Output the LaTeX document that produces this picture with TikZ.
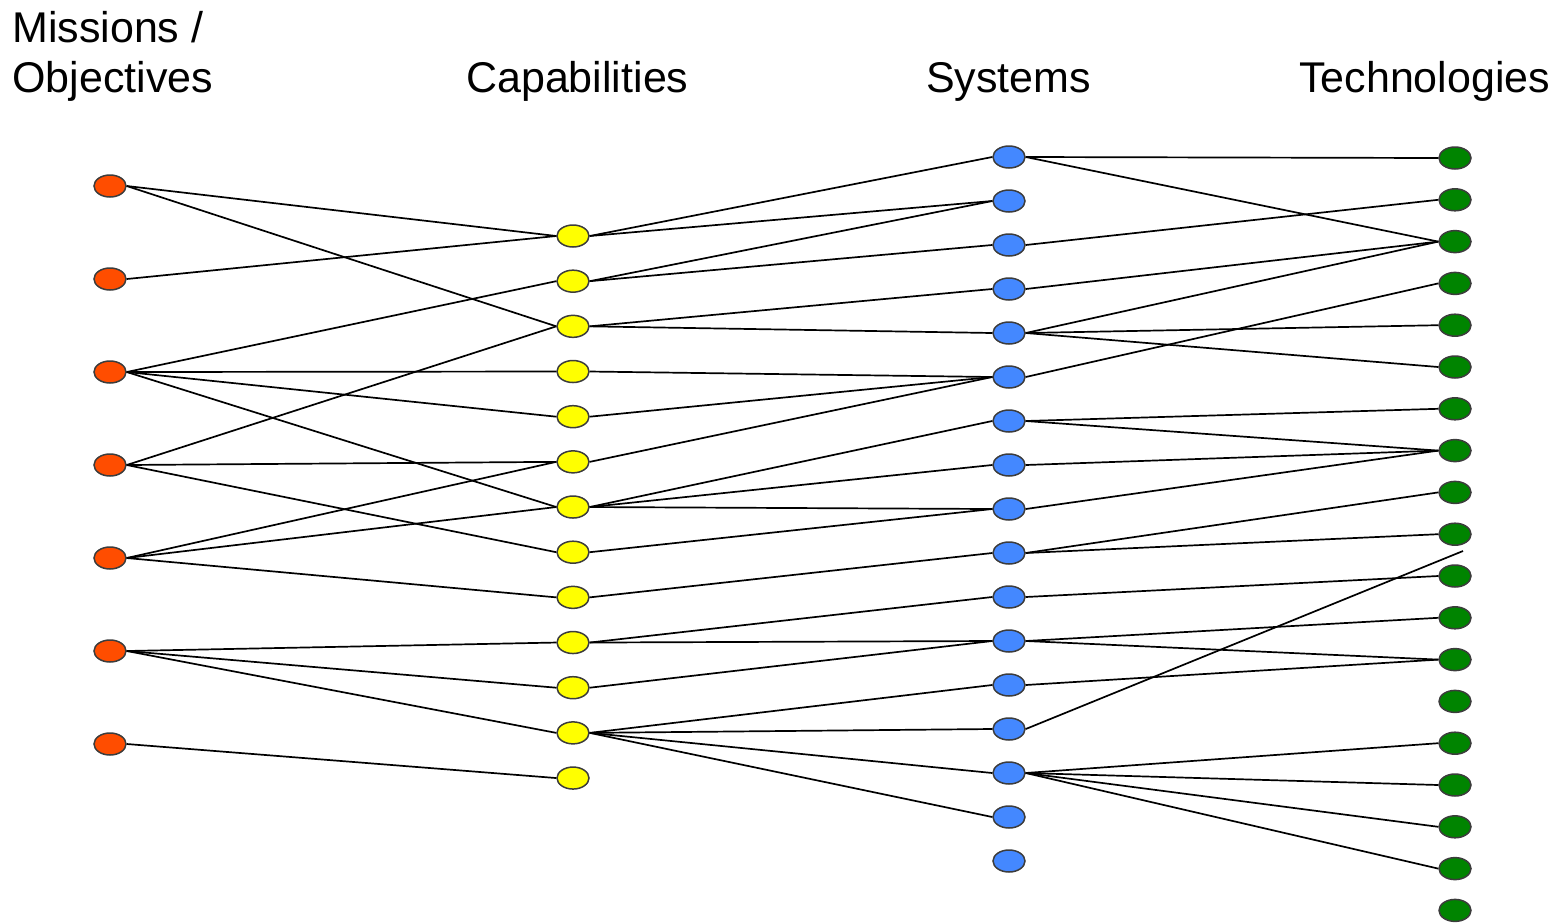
\documentclass[tikz,border=0pt]{standalone}
\usepackage{fontspec}
\setmainfont{Liberation Sans}
\usetikzlibrary{shapes.geometric}

\definecolor{missionfill}{HTML}{FF4D00}
\definecolor{capfill}{HTML}{FFFF00}
\definecolor{sysfill}{HTML}{4488FF}
\definecolor{techfill}{HTML}{008400}
\definecolor{rim}{HTML}{3C3C3C}

\begin{document}
\begin{tikzpicture}[x=1pt, y=-1pt,
  dot/.style={ellipse, draw=rim, line width=1.5pt, minimum width=32pt,
              minimum height=22pt, inner sep=0pt},
  mission/.style={dot, fill=missionfill},
  capability/.style={dot, fill=capfill},
  sysnode/.style={dot, fill=sysfill},
  technode/.style={dot, fill=techfill},
  wire/.style={draw=black, line width=1.7pt},
  heading/.style={anchor=base west, inner sep=0pt,
                  font=\fontsize{43}{50}\selectfont}]

\useasboundingbox (0,0) rectangle (1564,922);

% column headings
\node[heading] (hmis1) at (12,42) {Missions /};
\node[heading] (hmis2) at (12,92) {Objectives};
\node[heading] (hcap)  at (466,92) {Capabilities};
\node[heading] (hsys)  at (926,92) {Systems};
\node[heading] (htech) at (1299,92) {Technologies};

% four columns of nodes
\foreach \i in {1,...,7}  \node[mission]    (m\i) at (110, {186+93*(\i-1)}) {};
\foreach \i in {1,...,13} \node[capability] (c\i) at (573, {236+45.17*(\i-1)}) {};
\foreach \i in {1,...,17} \node[sysnode]    (s\i) at (1009,{157+44*(\i-1)}) {};
\foreach \i in {1,...,19} \node[technode]   (t\i) at (1455,{158+41.8*(\i-1)}) {};

% free end of the one unfinished link
\coordinate (loose) at (1463,551);

% missions -> capabilities
\foreach \a/\b in {m1/c1, m1/c3, m2/c1, m3/c2, m3/c4, m3/c5, m3/c7,
                   m4/c3, m4/c6, m4/c8, m5/c6, m5/c7, m5/c9,
                   m6/c10, m6/c11, m6/c12, m7/c13}
  \draw[wire] (\a.east) -- (\b.west);
% capabilities -> systems
\foreach \a/\b in {c1/s1, c1/s2, c2/s2, c2/s3, c3/s4, c3/s5, c4/s6, c5/s6,
                   c6/s6, c7/s7, c7/s8, c7/s9, c8/s9, c9/s10, c10/s11,
                   c10/s12, c11/s12, c12/s13, c12/s14, c12/s15, c12/s16}
  \draw[wire] (\a.east) -- (\b.west);
% systems -> technologies
\foreach \a/\b in {s1/t1, s1/t3, s3/t2, s4/t3, s5/t3, s5/t5, s5/t6, s6/t4,
                   s7/t7, s7/t8, s8/t8, s9/t8, s10/t9, s10/t10, s11/t11,
                   s12/t12, s12/t13, s13/t13, s15/t15, s15/t16, s15/t17,
                   s15/t18}
  \draw[wire] (\a.east) -- (\b.west);
\draw[wire] (s14.east) -- (loose);

\end{tikzpicture}
\end{document}
